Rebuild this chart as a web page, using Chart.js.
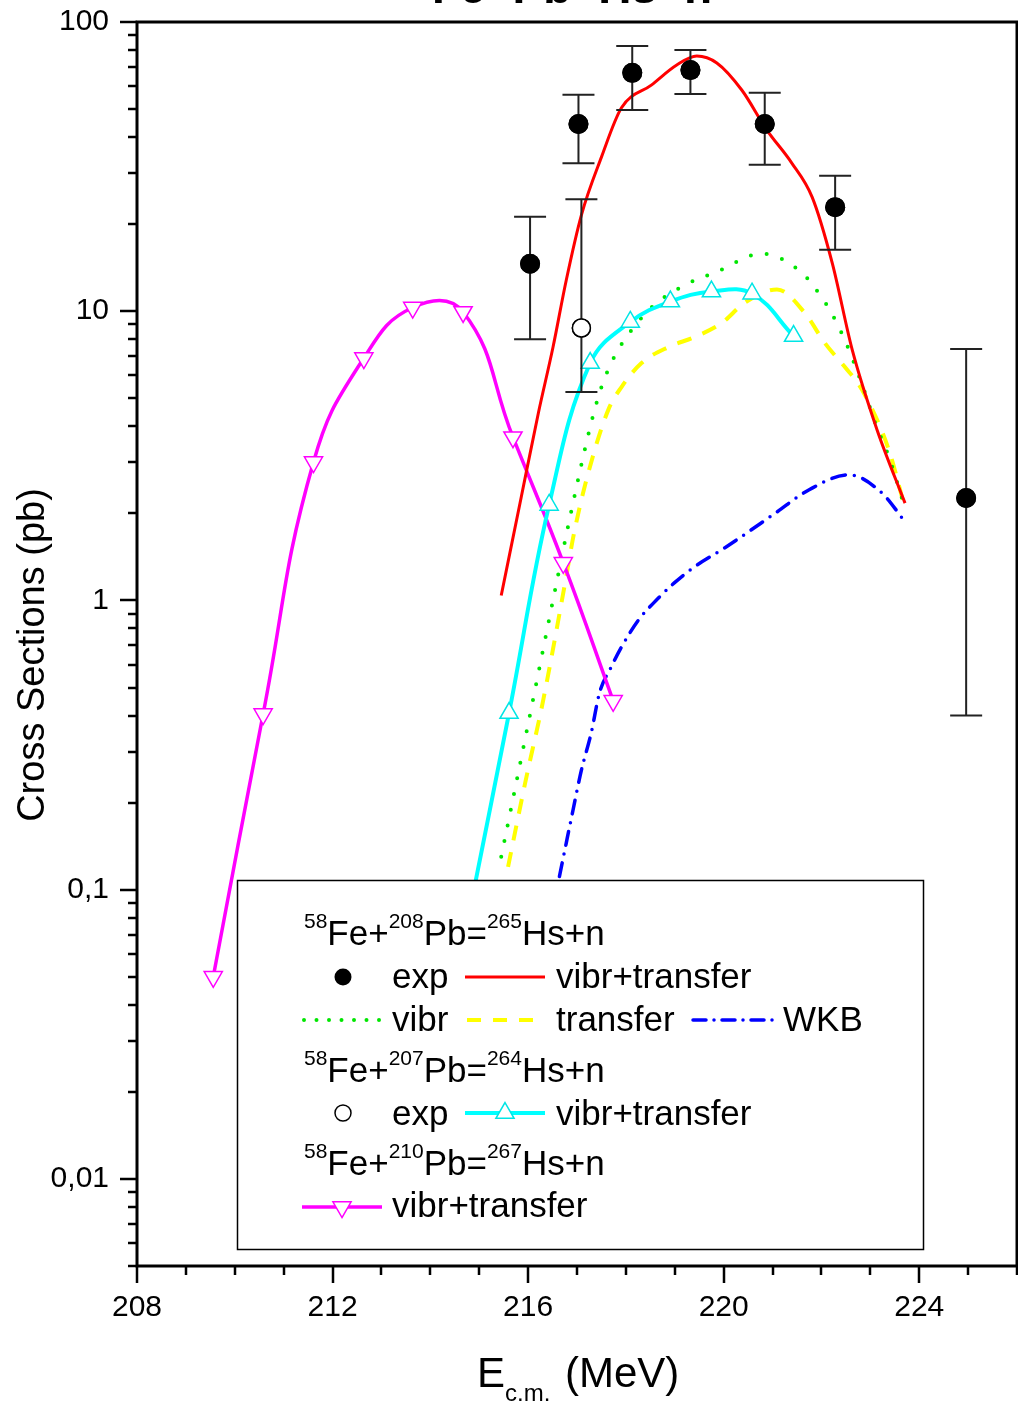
<!DOCTYPE html>
<html>
<head>
<meta charset="utf-8">
<script src="https://cdn.jsdelivr.net/npm/chart.js@4.4.1/dist/chart.umd.min.js"></script>
<style>
  html, body { margin: 0; padding: 0; background: #fff; }
  #wrap { position: relative; width: 1018px; height: 1406px; }
</style>
</head>
<body>
<div id="wrap"><canvas id="xsChart" width="1018" height="1406"></canvas></div>
<script>
// ============================================================
// 58Fe + Pb -> Hs + n  cross sections (log scale)
// ============================================================

const FONT = '"Liberation Sans", Arial, sans-serif';

// --- axis ticks ---
const X_TICKS = [208, 212, 216, 220, 224];
const Y_TICKS = [0.01, 0.1, 1, 10, 100];
const Y_TICK_LABELS = ['0,01', '0,1', '1', '10', '100'];

// --- 58Fe+208Pb experiment ---
const EXP208_E = [216.04, 217.03, 218.13, 219.32, 220.84, 222.28, 224.96];
const EXP208_SIG = [14.6, 44.4, 66.7, 68.2, 44.4, 22.9, 2.26];
const EXP208_LO = [8.0, 32.5, 49.6, 56.4, 32.1, 16.3, 0.40];
const EXP208_HI = [21.2, 56.0, 82.6, 80.0, 56.9, 29.4, 7.40];

// --- 58Fe+207Pb experiment ---
const EXP207_E = [217.09];
const EXP207_SIG = [8.75];
const EXP207_LO = [5.26];
const EXP207_HI = [24.4];

// --- 208Pb vibr+transfer (red) ---
const RED_E = [215.45, 215.86, 216.21, 216.51, 216.78, 217.09, 217.50, 217.91, 218.52, 219.04,
               219.45, 219.86, 220.37, 220.88, 221.39, 221.81, 222.22, 222.63, 223.14, 223.71];
const RED_V = [1.04, 2.28, 4.45, 7.52, 12.8, 21.5, 34.1, 50.5, 60.5, 71.0,
               76.3, 72.2, 58.2, 42.4, 32.6, 24.8, 14.7, 7.35, 3.88, 2.17];

// --- 208Pb vibr (green dotted) ---
const VIBR_E = [215.45, 215.80, 216.21, 216.62, 216.90, 217.29, 217.50, 217.76, 217.97, 218.52,
                219.20, 219.86, 220.78, 221.60, 221.87, 222.11, 222.46, 222.87, 223.10, 223.38, 223.69];
const VIBR_V = [0.130, 0.254, 0.561, 1.24, 2.10, 4.11, 5.47, 6.95, 7.96, 10.3,
                12.3, 13.7, 15.8, 13.6, 12.0, 10.5, 8.08, 5.35, 4.11, 3.13, 2.14];

// --- 208Pb transfer (yellow dashed) ---
const TRANS_E = [215.59, 215.94, 216.31, 216.74, 216.94, 217.23, 217.64, 217.91, 218.32, 218.87,
                 219.41, 219.96, 220.43, 221.09, 221.66, 222.07, 222.48, 222.83, 223.38, 223.69];
const TRANS_V = [0.120, 0.234, 0.453, 1.11, 1.71, 2.76, 4.56, 5.47, 6.62, 7.52,
                 8.15, 9.10, 10.7, 11.9, 9.86, 7.76, 6.41, 5.35, 3.31, 2.14];

// --- 208Pb WKB (blue dash-dot) ---
const WKB_E = [216.64, 216.78, 216.92, 217.09, 217.29, 217.46, 217.70, 217.91, 218.26, 218.63,
               218.99, 219.41, 220.02, 221.05, 221.74, 222.56, 223.24, 223.71];
const WKB_V = [0.111, 0.145, 0.189, 0.259, 0.348, 0.479, 0.589, 0.690, 0.857, 1.005,
               1.15, 1.31, 1.52, 2.00, 2.41, 2.72, 2.35, 1.87];

// --- 207Pb vibr+transfer (cyan, up triangles) ---
const PB207_E = [214.77, 215.61, 216.43, 217.27, 218.09, 218.91, 219.75, 220.58, 221.43];
const PB207_V = [0.079, 0.408, 2.14, 6.62, 9.18, 10.8, 11.7, 11.5, 8.21];

// --- 210Pb vibr+transfer (magenta, down triangles) ---
const PB210_E = [209.56, 210.58, 211.61, 212.64, 213.64, 214.67, 215.69, 216.72, 217.74];
const PB210_V = [0.050, 0.405, 3.01, 6.89, 10.3, 9.94, 3.67, 1.35, 0.45];

// --- legend reactions: [text, isSuperscript] ---
const REACT_208 = [['58', 1], ['Fe+', 0], ['208', 1], ['Pb=', 0], ['265', 1], ['Hs+n', 0]];
const REACT_207 = [['58', 1], ['Fe+', 0], ['207', 1], ['Pb=', 0], ['264', 1], ['Hs+n', 0]];
const REACT_210 = [['58', 1], ['Fe+', 0], ['210', 1], ['Pb=', 0], ['267', 1], ['Hs+n', 0]];

const pts = (xs, ys) => xs.map((x, i) => ({ x: x, y: ys[i] }));

// no label overhang padding: the plot frame is fixed
function noPad(s) {
  s.paddingTop = 0; s.paddingBottom = 0; s.paddingLeft = 0; s.paddingRight = 0;
}

// error bars, then markers redrawn on top of them
const errorBars = {
  id: 'errorBars',
  afterDatasetsDraw(chart) {
    const ctx = chart.ctx;
    const xs = chart.scales.x, ys = chart.scales.y;
    ctx.save();
    ctx.strokeStyle = '#222';
    ctx.lineWidth = 2;
    chart.data.datasets.forEach(ds => {
      if (!ds.errLo) return;
      ds.data.forEach((p, i) => {
        const px = xs.getPixelForValue(p.x);
        const pLo = ys.getPixelForValue(ds.errLo[i]);
        const pHi = ys.getPixelForValue(ds.errHi[i]);
        ctx.beginPath();
        ctx.moveTo(px, pLo); ctx.lineTo(px, pHi);
        ctx.moveTo(px - 16, pLo); ctx.lineTo(px + 16, pLo);
        ctx.moveTo(px - 16, pHi); ctx.lineTo(px + 16, pHi);
        ctx.stroke();
      });
    });
    ctx.restore();
    chart.data.datasets.forEach((ds, di) => {
      if (ds.errLo) chart.getDatasetMeta(di).controller.draw();
    });
  }
};

function drawReaction(ctx, x, y, parts) {
  parts.forEach(([t, sup]) => {
    ctx.font = sup ? '21px ' + FONT : '35px ' + FONT;
    ctx.fillText(t, x, sup ? y - 17 : y);
    x += ctx.measureText(t).width;
  });
}

function drawTri(ctx, x, y, r, down, color) {
  const s = down ? -1 : 1;
  ctx.save();
  ctx.beginPath();
  ctx.moveTo(x, y - s * r);
  ctx.lineTo(x + 0.866 * r, y + s * 0.5 * r);
  ctx.lineTo(x - 0.866 * r, y + s * 0.5 * r);
  ctx.closePath();
  ctx.fillStyle = '#fff';
  ctx.fill();
  ctx.strokeStyle = color;
  ctx.lineWidth = 1.5;
  ctx.setLineDash([]);
  ctx.stroke();
  ctx.restore();
}

function sample(ctx, x1, x2, y, color, width, dash, cap) {
  ctx.save();
  ctx.strokeStyle = color;
  ctx.lineWidth = width;
  ctx.setLineDash(dash);
  ctx.lineCap = cap;
  ctx.beginPath();
  ctx.moveTo(x1, y); ctx.lineTo(x2, y);
  ctx.stroke();
  ctx.restore();
}

const legendBox = {
  id: 'legendBox',
  afterDatasetsDraw(chart) {
    const ctx = chart.ctx;
    ctx.save();
    ctx.fillStyle = '#fff';
    ctx.fillRect(237, 880, 687, 370);
    ctx.strokeStyle = '#000';
    ctx.lineWidth = 1.5;
    ctx.strokeRect(237.5, 880.5, 686, 369);

    ctx.fillStyle = '#000';
    ctx.textBaseline = 'alphabetic';
    drawReaction(ctx, 304, 945, REACT_208);
    ctx.font = '35px ' + FONT;
    // row 2
    ctx.beginPath(); ctx.arc(343, 977, 8.5, 0, Math.PI * 2); ctx.fill();
    ctx.fillText('exp', 392, 988);
    sample(ctx, 465, 545, 977, '#ff0000', 3, [], 'butt');
    ctx.fillText('vibr+transfer', 556, 988);
    // row 3
    sample(ctx, 304, 380, 1020, '#00e600', 4, [0, 12.5], 'round');
    ctx.fillText('vibr', 392, 1031);
    sample(ctx, 467, 545, 1020, '#ffff00', 4, [14, 12], 'butt');
    ctx.fillText('transfer', 556, 1031);
    sample(ctx, 693, 773, 1020, '#0000ff', 3.5, [13, 8, 0, 8], 'round');
    ctx.fillText('WKB', 783, 1031);
    // row 4-5
    drawReaction(ctx, 304, 1082, REACT_207);
    ctx.font = '35px ' + FONT;
    ctx.beginPath(); ctx.arc(343, 1113, 8, 0, Math.PI * 2);
    ctx.fillStyle = '#fff'; ctx.fill();
    ctx.strokeStyle = '#000'; ctx.lineWidth = 1.5; ctx.stroke();
    ctx.fillStyle = '#000';
    ctx.fillText('exp', 392, 1125);
    sample(ctx, 465, 545, 1113, '#00ffff', 4, [], 'butt');
    drawTri(ctx, 505, 1113, 10.5, false, '#00e5e5');
    ctx.fillText('vibr+transfer', 556, 1125);
    // row 6-7
    drawReaction(ctx, 304, 1175, REACT_210);
    ctx.font = '35px ' + FONT;
    sample(ctx, 302, 382, 1207, '#ff00ff', 3.5, [], 'butt');
    drawTri(ctx, 342, 1207, 10.5, true, '#ff00ff');
    ctx.fillText('vibr+transfer', 392, 1217);
    ctx.restore();
  }
};

// frame, tick marks, axis titles, clipped title
const frame = {
  id: 'frame',
  afterDraw(chart) {
    const ctx = chart.ctx;
    const a = chart.chartArea;
    const xs = chart.scales.x, ys = chart.scales.y;
    ctx.save();
    ctx.strokeStyle = '#000';
    ctx.lineWidth = 3;
    ctx.strokeRect(a.left, a.top, a.right - a.left, a.bottom - a.top);

    ctx.lineWidth = 2.5;
    ctx.beginPath();
    for (let d = -3; d <= 2; d++) {
      for (let m = 1; m <= 9; m++) {
        const v = m * Math.pow(10, d);
        if (v < ys.min * 0.999 || v > ys.max * 1.001) continue;
        const py = Math.round(ys.getPixelForValue(v));
        ctx.moveTo(a.left, py);
        ctx.lineTo(a.left - (m === 1 ? 17 : 9), py);
      }
    }
    for (let e = xs.min; e <= xs.max; e++) {
      const px = Math.round(xs.getPixelForValue(e));
      ctx.moveTo(px, a.bottom);
      ctx.lineTo(px, a.bottom + ((e - 208) % 4 === 0 ? 17 : 9));
    }
    ctx.stroke();

    ctx.fillStyle = '#000';
    // y title
    ctx.save();
    ctx.translate(44, 655);
    ctx.rotate(-Math.PI / 2);
    ctx.font = '38px ' + FONT;
    ctx.textAlign = 'center';
    ctx.textBaseline = 'alphabetic';
    ctx.fillText('Cross Sections (pb)', 0, 0);
    ctx.restore();

    // x title with subscript
    ctx.textAlign = 'left';
    ctx.font = '42px ' + FONT;
    ctx.fillText('E', 477, 1387);
    const x = 477 + ctx.measureText('E').width;
    ctx.font = '24px ' + FONT;
    ctx.fillText('c.m.', x, 1401);
    ctx.font = '42px ' + FONT;
    ctx.fillText('(MeV)', 565, 1387);

    // title, mostly above the picture
    ctx.font = 'bold 46px ' + FONT;
    ctx.textAlign = 'center';
    ctx.fillText('Fe+Pb=Hs+n', 572, 3);
    ctx.restore();
  }
};

new Chart(document.getElementById('xsChart'), {
  type: 'line',
  data: {
    datasets: [
      {
        label: 'exp 208', data: pts(EXP208_E, EXP208_SIG), errLo: EXP208_LO, errHi: EXP208_HI,
        showLine: false, pointRadius: 10, pointBackgroundColor: '#000', pointBorderColor: '#000',
        pointBorderWidth: 0, order: 0
      },
      {
        label: 'exp 207', data: pts(EXP207_E, EXP207_SIG), errLo: EXP207_LO, errHi: EXP207_HI,
        showLine: false, pointRadius: 9, pointBackgroundColor: '#fff', pointBorderColor: '#000',
        pointBorderWidth: 1.5, order: 0
      },
      {
        label: 'vibr+transfer 208', data: pts(RED_E, RED_V), borderColor: '#ff0000', borderWidth: 3,
        pointRadius: 0, cubicInterpolationMode: 'monotone', order: 1
      },
      {
        label: 'vibr+transfer 207', data: pts(PB207_E, PB207_V), borderColor: '#00ffff', borderWidth: 4,
        pointStyle: 'triangle', pointRadius: 10.5, pointBackgroundColor: '#fff',
        pointBorderColor: '#00e5e5', pointBorderWidth: 1.5, tension: 0.4, order: 2
      },
      {
        label: 'vibr+transfer 210', data: pts(PB210_E, PB210_V), borderColor: '#ff00ff', borderWidth: 3.5,
        pointStyle: 'triangle', pointRotation: 180, pointRadius: 10.5, pointBackgroundColor: '#fff',
        pointBorderColor: '#ff00ff', pointBorderWidth: 1.5, tension: 0.45, order: 3
      },
      {
        label: 'vibr', data: pts(VIBR_E, VIBR_V), borderColor: '#00e600', borderWidth: 4,
        borderDash: [0, 16], borderCapStyle: 'round', pointRadius: 0,
        cubicInterpolationMode: 'monotone', order: 4
      },
      {
        label: 'transfer', data: pts(TRANS_E, TRANS_V), borderColor: '#ffff00', borderWidth: 4,
        borderDash: [15, 12], pointRadius: 0, cubicInterpolationMode: 'monotone', order: 5
      },
      {
        label: 'WKB', data: pts(WKB_E, WKB_V), borderColor: '#0000ff', borderWidth: 3.5,
        borderDash: [14, 9, 0, 9], borderCapStyle: 'round', pointRadius: 0,
        cubicInterpolationMode: 'monotone', order: 6
      }
    ]
  },
  options: {
    responsive: false,
    animation: false,
    events: [],
    layout: { autoPadding: false, padding: { left: 0, right: 1, top: 22, bottom: 0 } },
    plugins: { legend: { display: false }, tooltip: { enabled: false } },
    scales: {
      x: {
        type: 'linear', min: 208, max: 226,
        grid: { display: false, drawTicks: false }, border: { display: false },
        afterFit: s => { s.height = 140; noPad(s); },
        afterBuildTicks: s => { s.ticks = X_TICKS.map(v => ({ value: v })); },
        ticks: { color: '#000', font: { family: FONT, size: 30 }, padding: 24, maxRotation: 0, autoSkip: false }
      },
      y: {
        type: 'logarithmic', min: 0.005, max: 100,
        grid: { display: false, drawTicks: false }, border: { display: false },
        afterFit: s => { s.width = 137; noPad(s); },
        afterBuildTicks: s => { s.ticks = Y_TICKS.map(v => ({ value: v })); },
        ticks: {
          color: '#000', font: { family: FONT, size: 30 }, padding: 28, autoSkip: false,
          callback: v => { const i = Y_TICKS.indexOf(v); return i < 0 ? '' : Y_TICK_LABELS[i]; }
        }
      }
    }
  },
  plugins: [errorBars, legendBox, frame]
});
</script>
</body>
</html>
